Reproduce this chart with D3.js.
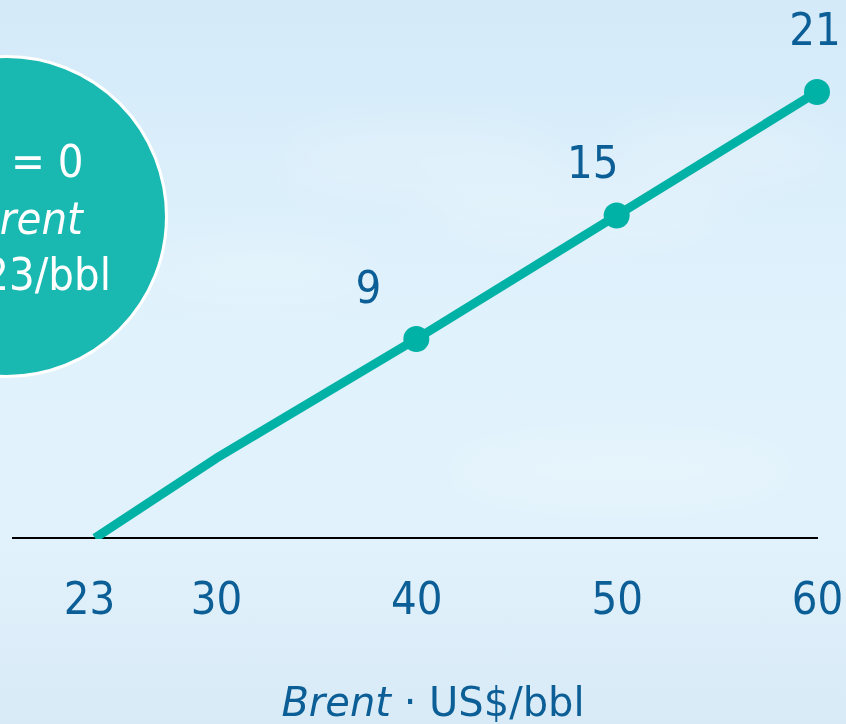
<!DOCTYPE html>
<html>
<head>
<meta charset="utf-8">
<script src="https://cdn.jsdelivr.net/npm/d3@7"></script>
<style>
  html, body { margin: 0; padding: 0; overflow: hidden; background: #dcEFFA; }
  svg { display: block; }
  text { font-family: "DejaVu Sans Condensed", "DejaVu Sans", sans-serif; font-stretch: condensed; }
  text.title { font-family: "DejaVu Sans", sans-serif; font-stretch: normal; }
</style>
</head>
<body>
<svg id="chart" width="846" height="724"></svg>
<script>
// ---- data ----
const brent = [23, 30, 40, 50, 60];           // US$/bbl
const fcf = [0, 3.6, 9, 15, 21];               // free cash flow
const pointLabels = ["", "", "9", "15", "21"]; // labelled points
const tickValues = [23, 30, 40, 50, 60];
const tickLabels = ["23", "30", "40", "50", "60"];
const calloutLines = ["FCF = 0", "Brent", "US$23/bbl"];
const calloutItalic = [false, true, false];
const axisTitleItalic = "Brent";
const axisTitleRest = " \u00B7 US$/bbl";

// ---- layout / style ----
const W = 846, H = 724;
const baselineY = 538;
const lineColor = "#00b2a6";
const circleColor = "#19b8b0";
const textBlue = "#0b5e96";
const labelOffsets = [[0, 0], [0, 0], [-48, -36], [-24, -38], [-2, -47]];
const calloutDx = [-3, 21, 0];

const svg = d3.select("#chart");
const defs = svg.append("defs");

// background sky gradient
const bg = defs.append("linearGradient").attr("id", "sky")
  .attr("x1", 0).attr("y1", 0).attr("x2", 0).attr("y2", 1);
bg.append("stop").attr("offset", "0%").attr("stop-color", "#d4eaf9");
bg.append("stop").attr("offset", "45%").attr("stop-color", "#e0f2fc");
bg.append("stop").attr("offset", "75%").attr("stop-color", "#e1f2fc");
bg.append("stop").attr("offset", "100%").attr("stop-color", "#d8eaf6");
svg.append("rect").attr("width", W).attr("height", H).attr("fill", "url(#sky)");

// soft clouds
const blur = defs.append("filter").attr("id", "blur")
  .attr("x", "-50%").attr("y", "-50%").attr("width", "200%").attr("height", "200%");
blur.append("feGaussianBlur").attr("stdDeviation", 22);
const clouds = [[420, 160, 140, 35], [580, 210, 150, 40], [720, 150, 110, 30], [260, 270, 120, 30], [620, 470, 180, 40]];
svg.append("g").attr("filter", "url(#blur)").selectAll("ellipse").data(clouds).join("ellipse")
  .attr("cx", d => d[0]).attr("cy", d => d[1]).attr("rx", d => d[2]).attr("ry", d => d[3])
  .attr("fill", "#ffffff").attr("opacity", 0.18);

// scales (schematic, piecewise)
const x = d3.scaleLinear().domain([23, 30, 60]).range([95, 216, 817]);
const y = d3.scaleLinear().domain([0, 9, 21]).range([baselineY, 339, 92]);

// axis baseline
svg.append("line")
  .attr("x1", 12).attr("x2", 818).attr("y1", baselineY).attr("y2", baselineY)
  .attr("stroke", "#000").attr("stroke-width", 2);

// tick labels via d3 axis
const axisG = svg.append("g").attr("transform", `translate(0,${baselineY})`)
  .call(d3.axisBottom(x).tickValues(tickValues).tickFormat((d, i) => tickLabels[i]).tickSize(0).tickPadding(0));
axisG.select(".domain").remove();
axisG.selectAll("text")
  .attr("y", 76).attr("dy", 0)
  .attr("font-size", 45).attr("fill", textBlue)
  .style("font-family", '"DejaVu Sans Condensed", "DejaVu Sans", sans-serif');
axisG.selectAll(".tick").filter(d => d === 23).select("text").attr("x", -6);

// clip line at baseline
defs.append("clipPath").attr("id", "above").append("rect")
  .attr("x", 0).attr("y", 0).attr("width", W).attr("height", baselineY + 1);

const pts = brent.map((b, i) => ({ b, v: fcf[i], label: pointLabels[i], i }));
const line = d3.line().x(d => x(d.b)).y(d => y(d.v));
svg.append("path").datum(pts)
  .attr("d", line).attr("fill", "none")
  .attr("stroke", lineColor).attr("stroke-width", 9)
  .attr("stroke-linejoin", "round")
  .attr("clip-path", "url(#above)");

const labelled = pts.filter(d => d.label !== "");
svg.selectAll("circle.pt").data(labelled).join("circle").attr("class", "pt")
  .attr("cx", d => x(d.b)).attr("cy", d => y(d.v)).attr("r", 13).attr("fill", lineColor);

svg.selectAll("text.pl").data(labelled).join("text").attr("class", "pl")
  .attr("x", d => x(d.b) + labelOffsets[d.i][0])
  .attr("y", d => y(d.v) + labelOffsets[d.i][1])
  .attr("text-anchor", "middle").attr("font-size", 45).attr("fill", textBlue)
  .text(d => d.label);

// callout circle
const cx = 6.5, cy = 216.5, r = 160;
svg.append("circle").attr("cx", cx).attr("cy", cy).attr("r", r)
  .attr("fill", circleColor).attr("stroke", "#ffffff").attr("stroke-width", 3);
svg.selectAll("text.co").data(calloutLines).join("text").attr("class", "co")
  .attr("x", (d, i) => cx + calloutDx[i]).attr("y", (d, i) => 177 + i * 56.5)
  .attr("text-anchor", "middle").attr("font-size", 45).attr("fill", "#ffffff")
  .attr("font-style", (d, i) => calloutItalic[i] ? "italic" : "normal")
  .text(d => d);

// axis title
const title = svg.append("text").attr("class", "title").attr("x", 433).attr("y", 716)
  .attr("text-anchor", "middle").attr("font-size", 40).attr("fill", textBlue);
title.append("tspan").attr("font-style", "italic").text(axisTitleItalic);
title.append("tspan").text(axisTitleRest);
</script>
</body>
</html>
